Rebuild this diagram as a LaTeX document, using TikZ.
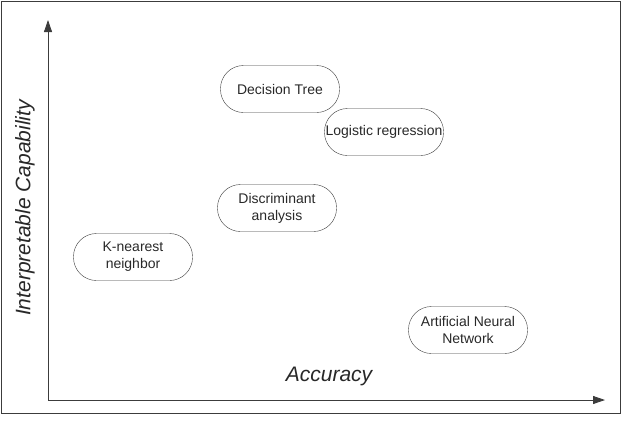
\documentclass[tikz,border=0pt]{standalone}
\usepackage{fontspec}
\setmainfont{Liberation Sans}
\usetikzlibrary{positioning,arrows.meta}
\definecolor{lineg}{RGB}{60,60,60}
\definecolor{textg}{RGB}{40,40,40}

\begin{document}
\begin{tikzpicture}[x=1pt, y=-1pt, every node/.style={text=textg}]
  \tikzset{
    method/.style={draw=lineg, rounded corners=23pt, minimum width=119pt, minimum height=47pt, align=center, font=\fontsize{14}{17}\selectfont, inner sep=0pt},
    axis/.style={draw=lineg, line width=0.8pt, -{Triangle[length=12pt, width=8pt]}},
    axislabel/.style={font=\fontsize{21}{24}\selectfont\itshape}
  }
  \useasboundingbox (0,0) rectangle (623,426);
  \draw[lineg, line width=1pt] (1,1) rectangle (620.5,413);

  % axes
  \coordinate (O) at (48,400);
  \coordinate (ytop) at (48,20);
  \coordinate (xend) at (605,400);
  \draw[axis] (O) -- (ytop);
  \draw[axis] (O) -- (xend);
  \node[axislabel] (xlab) at (329,376) {Accuracy};
  \node[axislabel, rotate=90] (ylab) at (25,208) {Interpretable Capability};

  % methods
  \node[method] (dtree) at (280,89)  {Decision Tree};
  \node[method] (logreg) at (384,132) {Logistic regression};
  \node[method] (discr) at (277,208) {Discriminant\\analysis};
  \node[method] (knn)   at (133,257) {K-nearest\\neighbor};
  \node[method] (ann)   at (468,330) {Artificial Neural\\Network};
\end{tikzpicture}
\end{document}
